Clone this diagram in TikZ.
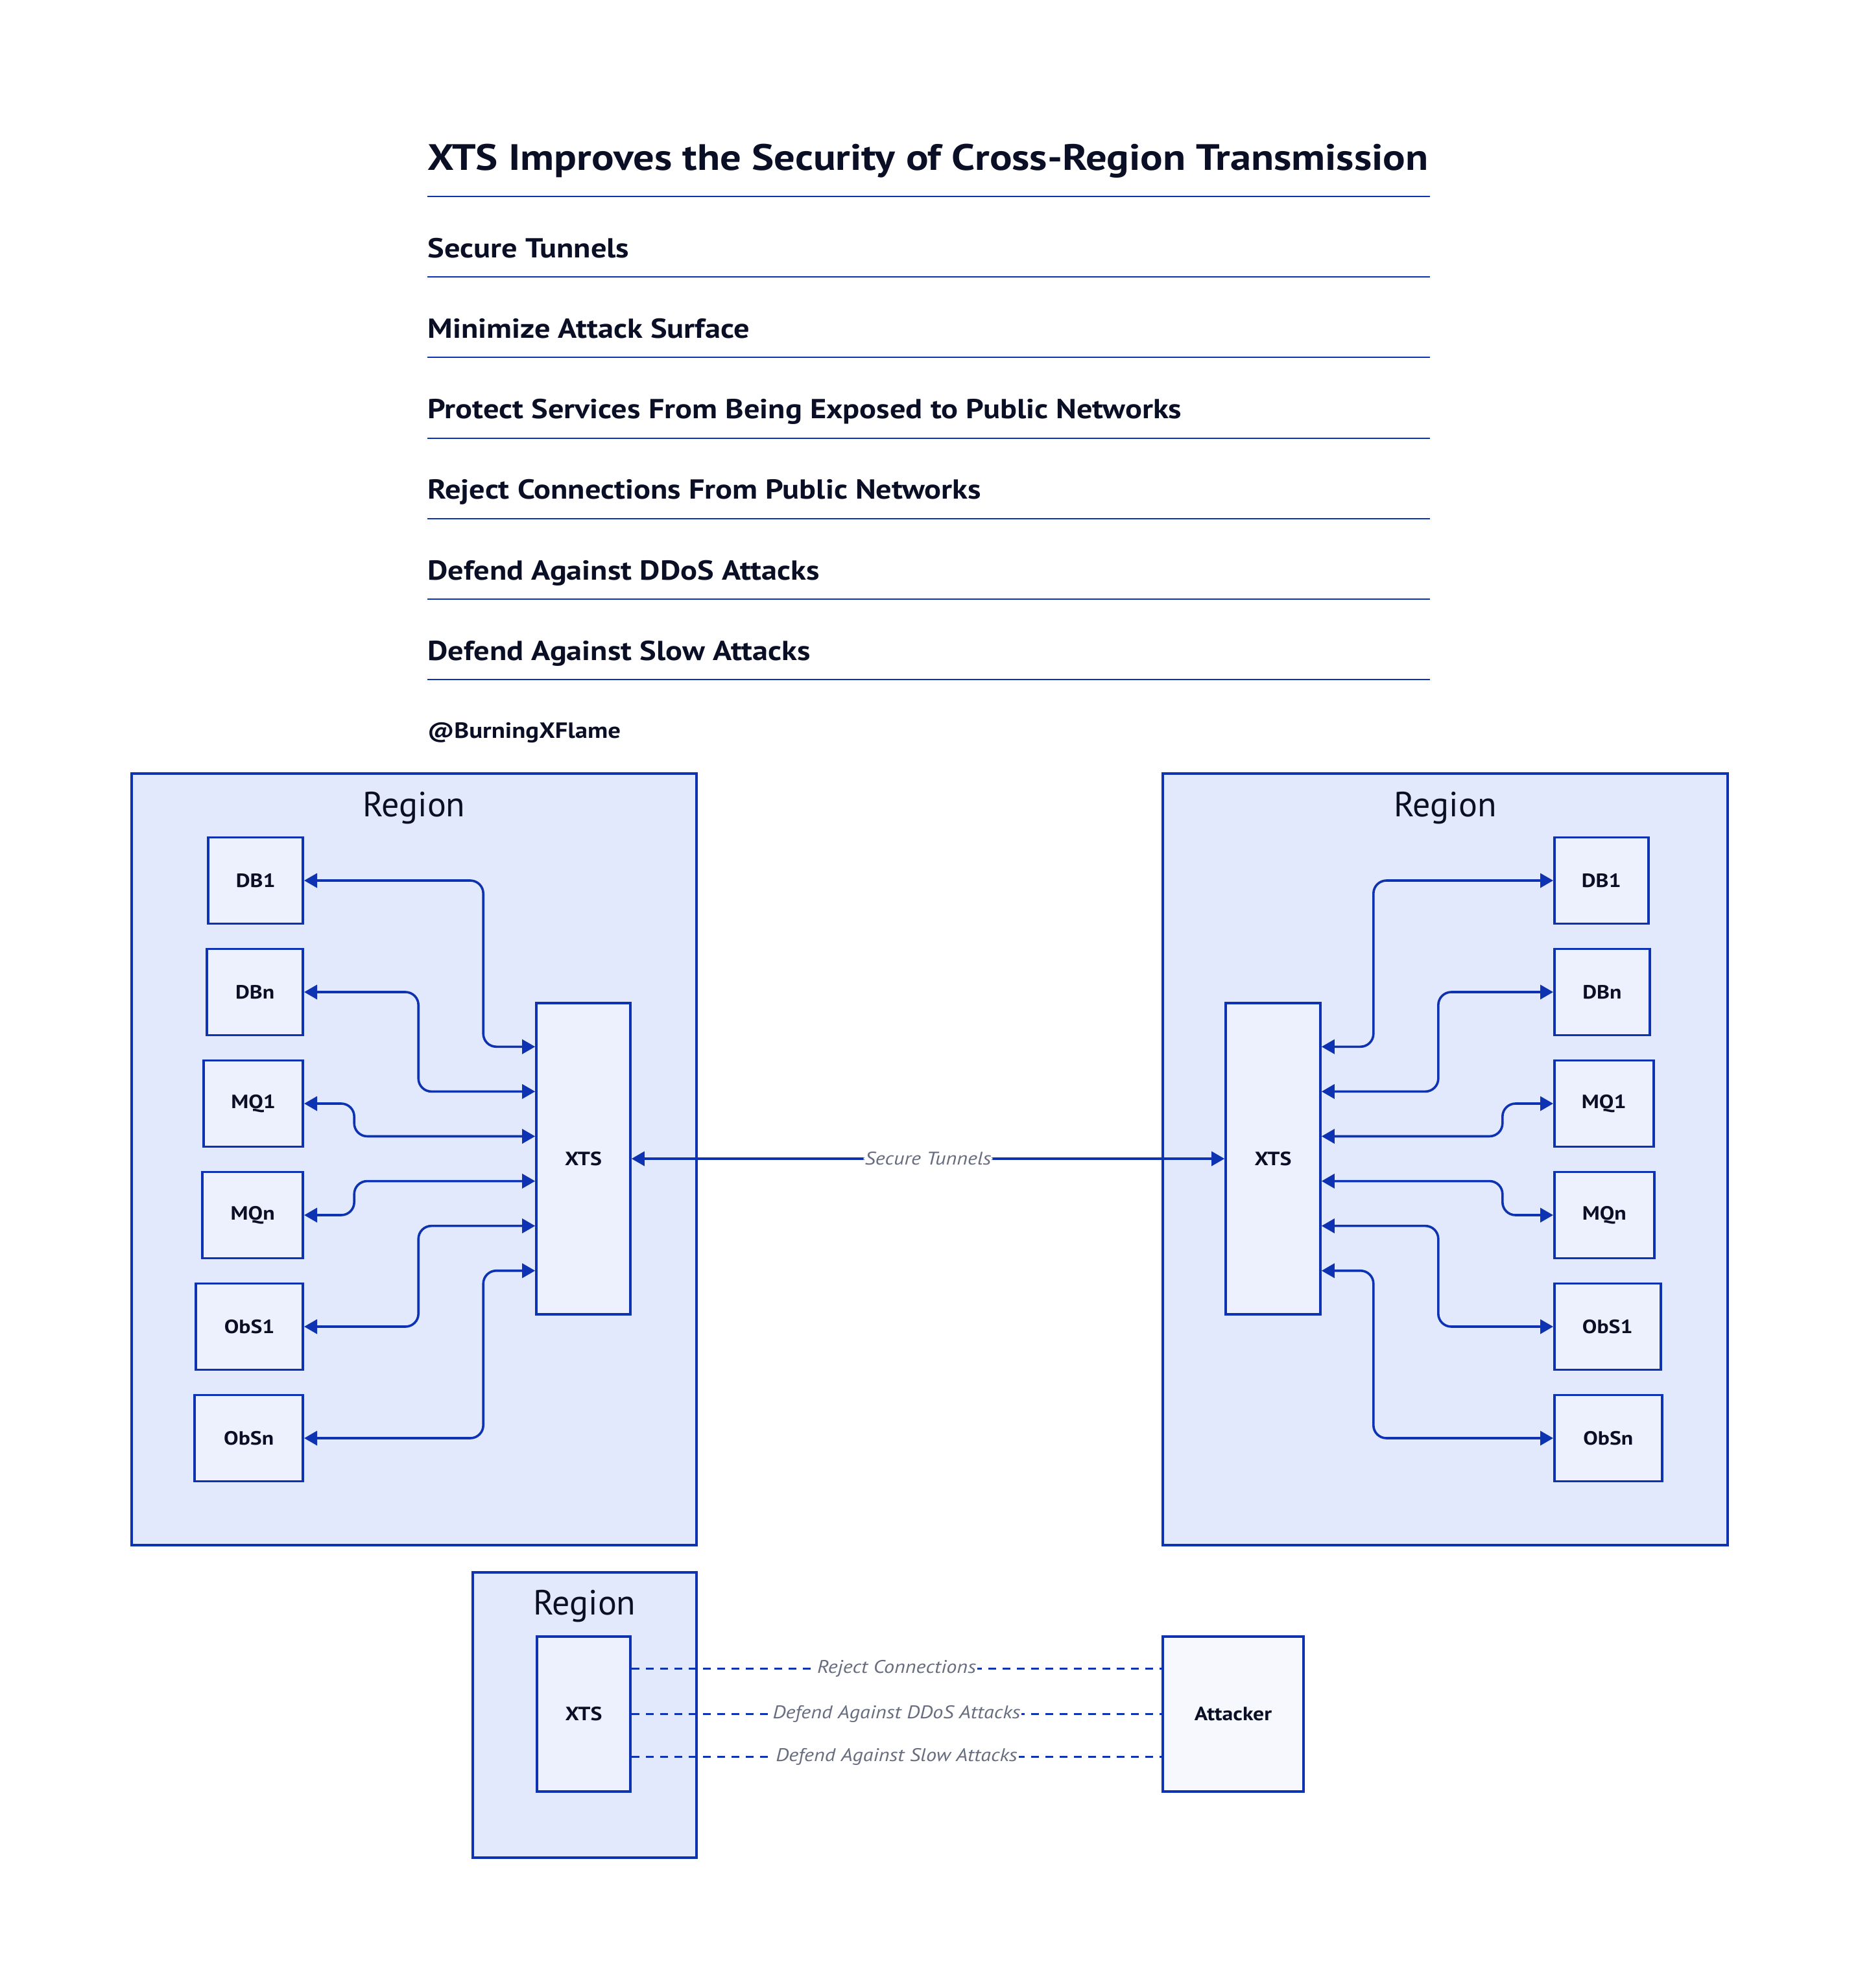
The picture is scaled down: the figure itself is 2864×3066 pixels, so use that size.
\documentclass[tikz,border=0pt]{standalone}
\usepackage{fontspec}
\setmainfont{PT Sans}[BoldFeatures={FakeStretch=1.14}, ItalicFeatures={FakeStretch=1.14}]
\usepackage{xcolor}
\usetikzlibrary{calc,positioning,arrows.meta}

\definecolor{lineblue}{HTML}{0D32B2}
\definecolor{regionfill}{HTML}{E3E9FD}
\definecolor{boxfill}{HTML}{EDF0FD}
\definecolor{outerfill}{HTML}{F7F8FE}
\definecolor{inktext}{HTML}{0A0F25}
\definecolor{labelgray}{HTML}{676C7E}

\begin{document}
\begin{tikzpicture}[x=0.5pt, y=-0.5pt,
    region/.style={draw=lineblue, line width=1.8pt, fill=regionfill, inner sep=0pt},
    regname/.style={text=inktext, font=\fontsize{27}{32}\selectfont, anchor=base, inner sep=0pt},
    svc/.style={draw=lineblue, line width=1.8pt, fill=boxfill, text=inktext,
      font=\fontsize{14.8}{17}\selectfont\bfseries, minimum height=66.5pt, inner sep=0pt},
    link/.style={lineblue, line width=1.8pt, rounded corners=10pt,
      {Triangle[length=10pt,width=11pt]}-{Triangle[length=10pt,width=11pt]}},
    threat/.style={lineblue, line width=1.8pt, dash pattern=on 6pt off 5pt},
    edgelabel/.style={fill=white, text=labelgray, font=\fontsize{14.1}{17}\selectfont\itshape,
      inner xsep=1pt, inner ysep=2pt},
    rule/.style={lineblue, line width=1pt},
    heading/.style={text=inktext, anchor=base west, inner sep=0pt, font=\fontsize{28.3}{34}\selectfont\bfseries},
    item/.style={text=inktext, anchor=base west, inner sep=0pt, font=\fontsize{21.2}{26}\selectfont\bfseries}
  ]
  \useasboundingbox (0,0) rectangle (2864,3066);

  % header list
  \node[heading] (title) at (659,263) {XTS Improves the Security of Cross-Region Transmission};
  \draw[rule] (659,303) -- (2205,303);
  \foreach \txt [count=\i] in {Secure Tunnels, Minimize Attack Surface,
      Protect Services From Being Exposed to Public Networks,
      Reject Connections From Public Networks, Defend Against DDoS Attacks,
      Defend Against Slow Attacks} {
    \node[item] (item\i) at (659,{273+124.2*\i}) {\txt};
    \draw[rule] (659,{303+124.2*\i}) -- (2205,{303+124.2*\i});
  }
  \node[item, font=\fontsize{17}{21}\selectfont\bfseries] (handle) at (659,1138) {@BurningXFlame};

  % regions
  \node[region, anchor=north west, minimum width=435.5pt, minimum height=595pt] (regL) at (201,1191) {};
  \node[region, anchor=north west, minimum width=435.5pt, minimum height=595pt] (regR) at (1791,1191) {};
  \node[region, anchor=north west, minimum width=172.5pt, minimum height=220pt] (regB) at (727,2423) {};
  \node[regname] (regLname) at ($(regL.north)+(0,68)$) {Region};
  \node[regname] (regRname) at ($(regR.north)+(0,68)$) {Region};
  \node[regname] (regBname) at ($(regB.north)+(0,67)$) {Region};

  % gateways
  \node[svc, minimum width=72.5pt, minimum height=240pt] (lxts) at (899.5,1787) {XTS};
  \node[svc, minimum width=73pt, minimum height=240pt] (rxts) at (1963,1787) {XTS};

  % left services
  \foreach \name/\yy/\ww/\k/\off in {DB1/1358/73/1/80, DBn/1530/74/2/180, MQ1/1702/76.5/3/279,
      MQn/1874/77.5/4/279, ObS1/2046/82.5/5/180, ObSn/2218/83.5/6/80} {
    \node[svc, anchor=east, minimum width=\ww pt] (l\name) at (469,\yy) {\name};
    \draw[link] ($(lxts.north west)!\k/7!(lxts.south west)$) -- +(-\off,0) |- (l\name.east);
  }

  % right services
  \foreach \name/\yy/\ww/\k/\off in {DB1/1358/72.5/1/80, DBn/1530/73.5/2/180, MQ1/1702/76.5/3/279,
      MQn/1874/77/4/279, ObS1/2046/82/5/180, ObSn/2218/83/6/80} {
    \node[svc, anchor=west, minimum width=\ww pt] (r\name) at (2395,\yy) {\name};
    \draw[link] ($(rxts.north east)!\k/7!(rxts.south east)$) -- +(\off,0) |- (r\name.west);
  }

  \draw[link] (lxts.east) -- node[edgelabel] {Secure Tunnels} (rxts.west);

  % attack side
  \node[svc, minimum width=72pt, minimum height=119.5pt] (bxts) at (900,2643.5) {XTS};
  \node[svc, fill=outerfill, minimum width=108.5pt, minimum height=119.5pt] (attacker) at (1901.5,2643.5) {Attacker};
  \foreach \dy/\lbl in {-70/Reject Connections, 0/Defend Against DDoS Attacks, 66/Defend Against Slow Attacks}
    \draw[threat] ($(bxts.east)+(0,\dy)$) -- node[edgelabel] {\lbl} ($(attacker.west)+(0,\dy)$);
\end{tikzpicture}
\end{document}
